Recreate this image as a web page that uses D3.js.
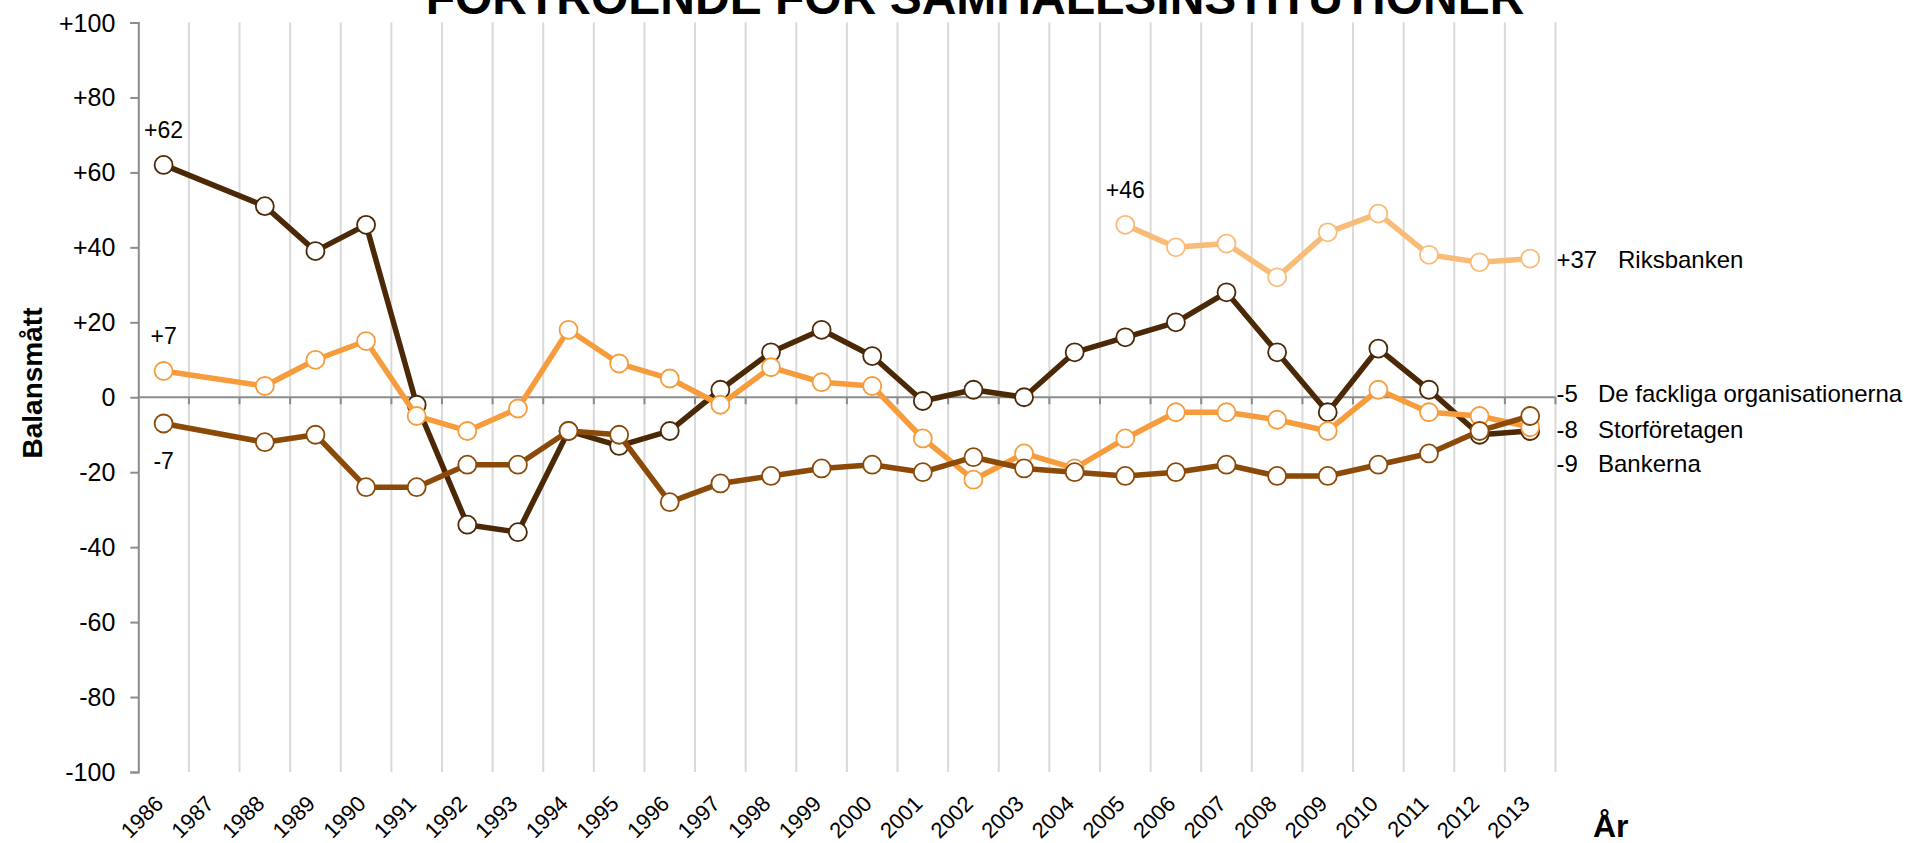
<!DOCTYPE html>
<html><head><meta charset="utf-8">
<script src="https://cdn.jsdelivr.net/npm/d3@7"></script>
<style>
body{margin:0;background:#fff}
svg{display:block}
text{font-family:"Liberation Sans",Arial,sans-serif;fill:#000}
</style></head>
<body><svg id="c" width="1908" height="843"></svg>
<script>
const title = "FÖRTROENDE FÖR SAMHÄLLSINSTITUTIONER";
const years = [1986,1987,1988,1989,1990,1991,1992,1993,1994,1995,1996,1997,1998,1999,2000,2001,2002,2003,2004,2005,2006,2007,2008,2009,2010,2011,2012,2013];
const bankerna = [62,null,51,39,46,-2,-34,-36,-9,-13,-9,2,12,18,11,-1,2,0,12,16,20,28,12,-4,13,2,-10,-9];
const storforetagen = [7,null,3,10,15,-5,-9,-3,18,9,5,-2,8,4,3,-11,-22,-15,-19,-11,-4,-4,-6,-9,2,-4,-5,-8];
const fackliga = [-7,null,-12,-10,-24,-24,-18,-18,-9,-10,-28,-23,-21,-19,-18,-20,-16,-19,-20,-21,-20,-18,-21,-21,-18,-15,-9,-5];
const riksbanken = [null,null,null,null,null,null,null,null,null,null,null,null,null,null,null,null,null,null,null,46,40,41,32,44,49,38,36,37];
const seriesNames = ["Bankerna","Storföretagen","De fackliga organisationerna","Riksbanken"];
const seriesColors = ["#4b2806","#f79c3c","#8c4a09","#f9bc78"];
const yTicks = [-100,-80,-60,-40,-20,0,20,40,60,80,100];
const yTitle = "Balansmått";
const xTitle = "År";

const series = [bankerna, storforetagen, fackliga, riksbanken].map((vals,i)=>({
  name: seriesNames[i], color: seriesColors[i],
  pts: years.map((yr,j)=>({yr, v: vals[j]})).filter(d=>d.v!==null)
}));

const svg = d3.select("#c");
const L = 138.3, R = 1555.5, T = 22.5, B = 772;
const x = d3.scaleBand().domain(years).range([L,R]).padding(0);
const y = d3.scaleLinear().domain([-100,100]).range([B,T]);
const cx = yr => x(yr) + x.bandwidth()/2;
const fmt = v => v>0 ? "+"+v : String(v);

function stext(g, str, px, py, opts={}){
  const t = g.append("text").text(str)
    .attr("transform", `translate(${px},${py})` + (opts.rot?` rotate(${opts.rot})`:""))
    .attr("font-size", opts.size||24)
    .attr("text-anchor", opts.anchor||"start");
  if (opts.bold) t.attr("font-weight","bold");
  return t;
}

// vertical gridlines
svg.append("g").selectAll("line").data(years).join("line")
  .attr("x1", d=>x(d)+x.bandwidth()).attr("x2", d=>x(d)+x.bandwidth())
  .attr("y1", T).attr("y2", B)
  .attr("stroke","#d9d9d9").attr("stroke-width",2);

// zero line with category ticks
const zg = svg.append("g");
zg.append("line").attr("x1",L).attr("x2",R).attr("y1",y(0)).attr("y2",y(0))
  .attr("stroke","#8c8c8c").attr("stroke-width",2);
zg.selectAll("line.tk").data(years).join("line").attr("class","tk")
  .attr("x1", d=>x(d)+x.bandwidth()).attr("x2", d=>x(d)+x.bandwidth())
  .attr("y1", y(0)).attr("y2", y(0)+7)
  .attr("stroke","#8c8c8c").attr("stroke-width",2);

// y axis
const ya = svg.append("g").attr("transform",`translate(${L},0)`)
  .call(d3.axisLeft(y).tickValues(yTicks).tickSize(8).tickFormat(""));
ya.select(".domain").attr("stroke","#8c8c8c").attr("stroke-width",2);
ya.selectAll(".tick line").attr("stroke","#8c8c8c").attr("stroke-width",2);
const ylab = svg.append("g");
yTicks.forEach(v=> stext(ylab, fmt(v), L-23, y(v)+9, {anchor:"end", size:25}));

// x labels
const xl = svg.append("g");
years.forEach(yr=>{
  xl.append("text").text(yr)
    .attr("transform",`translate(${cx(yr)+1},${B+33}) rotate(-45)`)
    .attr("font-size",22).attr("text-anchor","end");
});

// lines and markers
const line = d3.line().x(d=>cx(d.yr)).y(d=>y(d.v));
series.forEach(s=>{
  const g = svg.append("g");
  g.append("path").datum(s.pts).attr("d",line).attr("fill","none")
    .attr("stroke",s.color).attr("stroke-width",5.5).attr("stroke-linejoin","round");
  g.selectAll("circle").data(s.pts).join("circle")
    .attr("cx",d=>cx(d.yr)).attr("cy",d=>y(d.v)).attr("r",9)
    .attr("fill","#fff").attr("stroke",s.color).attr("stroke-width",1.8);
});

// start labels
const sl = svg.append("g");
const first = s => s.pts[0];
[0,1,3].forEach(i=>{ const p=first(series[i]); stext(sl, fmt(p.v), cx(p.yr), y(p.v)-27, {anchor:"middle", size:23}); });
{ const p = first(series[2]); stext(sl, fmt(p.v), cx(p.yr), y(p.v)+46, {anchor:"middle", size:23}); }

// end labels
const el = svg.append("g");
const last = s => s.pts[s.pts.length-1];
const endY = [y(0)+75, y(0)+41, y(0)+5, y(last(series[3]).v)+9];
const nameX = [1598, 1598, 1598, 1618];
[3,2,1,0].forEach(i=>{
  const p = last(series[i]);
  stext(el, fmt(p.v), R+1, endY[i]);
  stext(el, series[i].name, nameX[i], endY[i]);
});

// titles
stext(svg, title, 975, 14, {anchor:"middle", size:48, bold:true});
stext(svg, yTitle, 42, 383, {anchor:"middle", size:28, bold:true, rot:-90});
stext(svg, xTitle, 1593, 837, {size:32, bold:true});
</script></body></html>
